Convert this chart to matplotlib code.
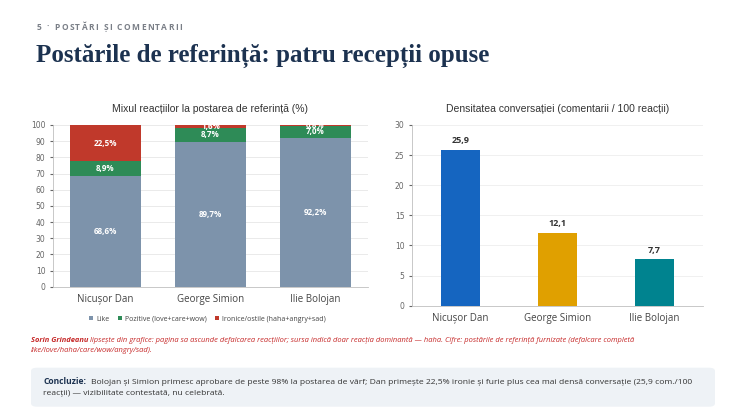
import matplotlib
matplotlib.use("Agg")
import matplotlib.pyplot as plt
from matplotlib.patches import FancyBboxPatch
import numpy as np

W, H = 747, 420

categories = ["Nicușor Dan", "George Simion", "Ilie Bolojan"]
like_vals = [68.6, 89.7, 92.2]
pozitive_vals = [8.9, 8.7, 7.0]
ironice_vals = [22.5, 1.6, 0.8]
series_names = ["Like", "Pozitive (love+care+wow)", "Ironice/ostile (haha+angry+sad)"]
series_colors = ["#7d93ab", "#2e8b57", "#c0392b"]

density_vals = [25.9, 12.1, 7.7]
density_colors = ["#1565c0", "#e0a000", "#00838f"]

fig = plt.figure(figsize=(W / 100, H / 100), dpi=100)
fig.patch.set_facecolor("white")

def px_ax(x0, y0, x1, y1):
    return fig.add_axes([x0 / W, 1 - y1 / H, (x1 - x0) / W, (y1 - y0) / H])

def fmt(v):
    return f"{v:.1f}".replace(".", ",")

fig.canvas.draw()
renderer = fig.canvas.get_renderer()

# Header with letter spacing
header = "5 · POSTĂRI ȘI COMENTARII"
xpos = 37.0
for ch in header:
    t = fig.text(xpos / W, 1 - 30 / H, ch, fontsize=6, fontweight="bold",
                 color="#7a7f87", family="Open Sans", va="baseline", ha="left")
    w = t.get_window_extent(renderer).width if ch != " " else 2.5
    xpos += w + 1.35

fig.text(36 / W, 1 - 56 / H, "Postările de referință: patru recepții opuse", fontsize=18,
         fontweight="bold", color="#1c3250", family="Liberation Serif", va="center", ha="left")

# Left chart
ax1 = px_ax(53, 125, 368, 286.7)
x = np.arange(len(categories))
bw = 0.667
bottoms = np.zeros(len(categories))
for vals, name, col in zip([like_vals, pozitive_vals, ironice_vals], series_names, series_colors):
    ax1.bar(x, vals, bw, bottom=bottoms, color=col, label=name, zorder=2)
    for xi, v, b in zip(x, vals, bottoms):
        ax1.text(xi, b + v / 2, fmt(v) + "%", ha="center", va="center", color="white",
                 fontsize=5.8, fontweight="bold", family="Open Sans", zorder=3, clip_on=True)
    bottoms = bottoms + np.array(vals)
ax1.set_xlim(-0.5, 2.5)
ax1.set_ylim(0, 100)
ax1.set_yticks(range(0, 101, 10))
ax1.set_xticks(x)
ax1.set_xticklabels(categories, fontsize=7, color="#444444", family="Open Sans")
ax1.tick_params(axis="y", labelsize=5.5, colors="#666666", length=2)
ax1.tick_params(axis="x", length=0, pad=5)
ax1.grid(axis="y", color="#e6e6e6", linewidth=0.6, zorder=0)
for s in ["top", "right"]:
    ax1.spines[s].set_visible(False)
for s in ["left", "bottom"]:
    ax1.spines[s].set_color("#bfbfbf")
    ax1.spines[s].set_linewidth(0.6)
ax1.set_title("Mixul reacțiilor la postarea de referință (%)", fontsize=7.5, color="#333333",
              family="Liberation Sans", pad=9)
leg = ax1.legend(loc="upper center", bbox_to_anchor=(0.49, -0.14), ncol=3, frameon=False,
                 handlelength=0.6, handleheight=0.6, handletextpad=0.4,
                 columnspacing=1.2, prop={"family": "Open Sans", "size": 5.0})
for t in leg.get_texts():
    t.set_color("#444444")

# Right chart
ax2 = px_ax(412, 125, 703, 305.7)
ax2.bar(x, density_vals, 0.4, color=density_colors, zorder=2)
for xi, v in zip(x, density_vals):
    ax2.text(xi, v + 0.8, fmt(v), ha="center", va="bottom", fontsize=6.5, fontweight="bold",
             color="#333333", family="Open Sans")
ax2.set_xlim(-0.5, 2.5)
ax2.set_ylim(0, 30)
ax2.set_yticks(range(0, 31, 5))
ax2.set_xticks(x)
ax2.set_xticklabels(categories, fontsize=7, color="#444444", family="Open Sans")
ax2.tick_params(axis="y", labelsize=5.5, colors="#666666", length=2)
ax2.tick_params(axis="x", length=0, pad=5)
ax2.grid(axis="y", color="#eeeeee", linewidth=0.6, zorder=0)
for s in ["top", "right"]:
    ax2.spines[s].set_visible(False)
for s in ["left", "bottom"]:
    ax2.spines[s].set_color("#bfbfbf")
    ax2.spines[s].set_linewidth(0.6)
ax2.set_title("Densitatea conversației (comentarii / 100 reacții)", fontsize=7.5, color="#333333",
              family="Liberation Sans", pad=9)

# Note
red = "#c62828"
t1 = fig.text(31 / W, 1 - 341 / H, "Sorin Grindeanu", fontsize=5.4, fontweight="bold",
              fontstyle="italic", color=red, family="Open Sans", va="center", ha="left")
bb = t1.get_window_extent(renderer)
fig.text((bb.x1 + 2) / W, 1 - 341 / H,
         "lipsește din grafice: pagina sa ascunde defalcarea reacțiilor; sursa indică doar reacția dominantă — haha. Cifre: postările de referință furnizate (defalcare completă",
         fontsize=5.4, fontstyle="italic", color=red, family="Open Sans", va="center", ha="left")
fig.text(31 / W, 1 - 351 / H, "like/love/haha/care/wow/angry/sad).", fontsize=5.4,
         fontstyle="italic", color=red, family="Open Sans", va="center", ha="left")

# Conclusion box
box = FancyBboxPatch((31 / W, 1 - 406.7 / H), (715 - 31) / W, (406.7 - 367.7) / H,
                     boxstyle="round,pad=0,rounding_size=0.008", transform=fig.transFigure,
                     facecolor="#eef2f6", edgecolor="none")
fig.patches.append(box)
c1 = fig.text(43 / W, 1 - 382 / H, "Concluzie:", fontsize=6.1, fontweight="bold",
              color="#1c3250", family="Open Sans", va="center", ha="left")
bb = c1.get_window_extent(renderer)
fig.text((bb.x1 + 5) / W, 1 - 382 / H,
         "Bolojan și Simion primesc aprobare de peste 98% la postarea de vârf; Dan primește 22,5% ironie și furie plus cea mai densă conversație (25,9 com./100",
         fontsize=6.1, color="#333333", family="Open Sans", va="center", ha="left")
fig.text(43 / W, 1 - 393.5 / H, "reacții) — vizibilitate contestată, nu celebrată.",
         fontsize=6.1, color="#333333", family="Open Sans", va="center", ha="left")

fig.savefig("out.png", dpi=100, facecolor="white")
